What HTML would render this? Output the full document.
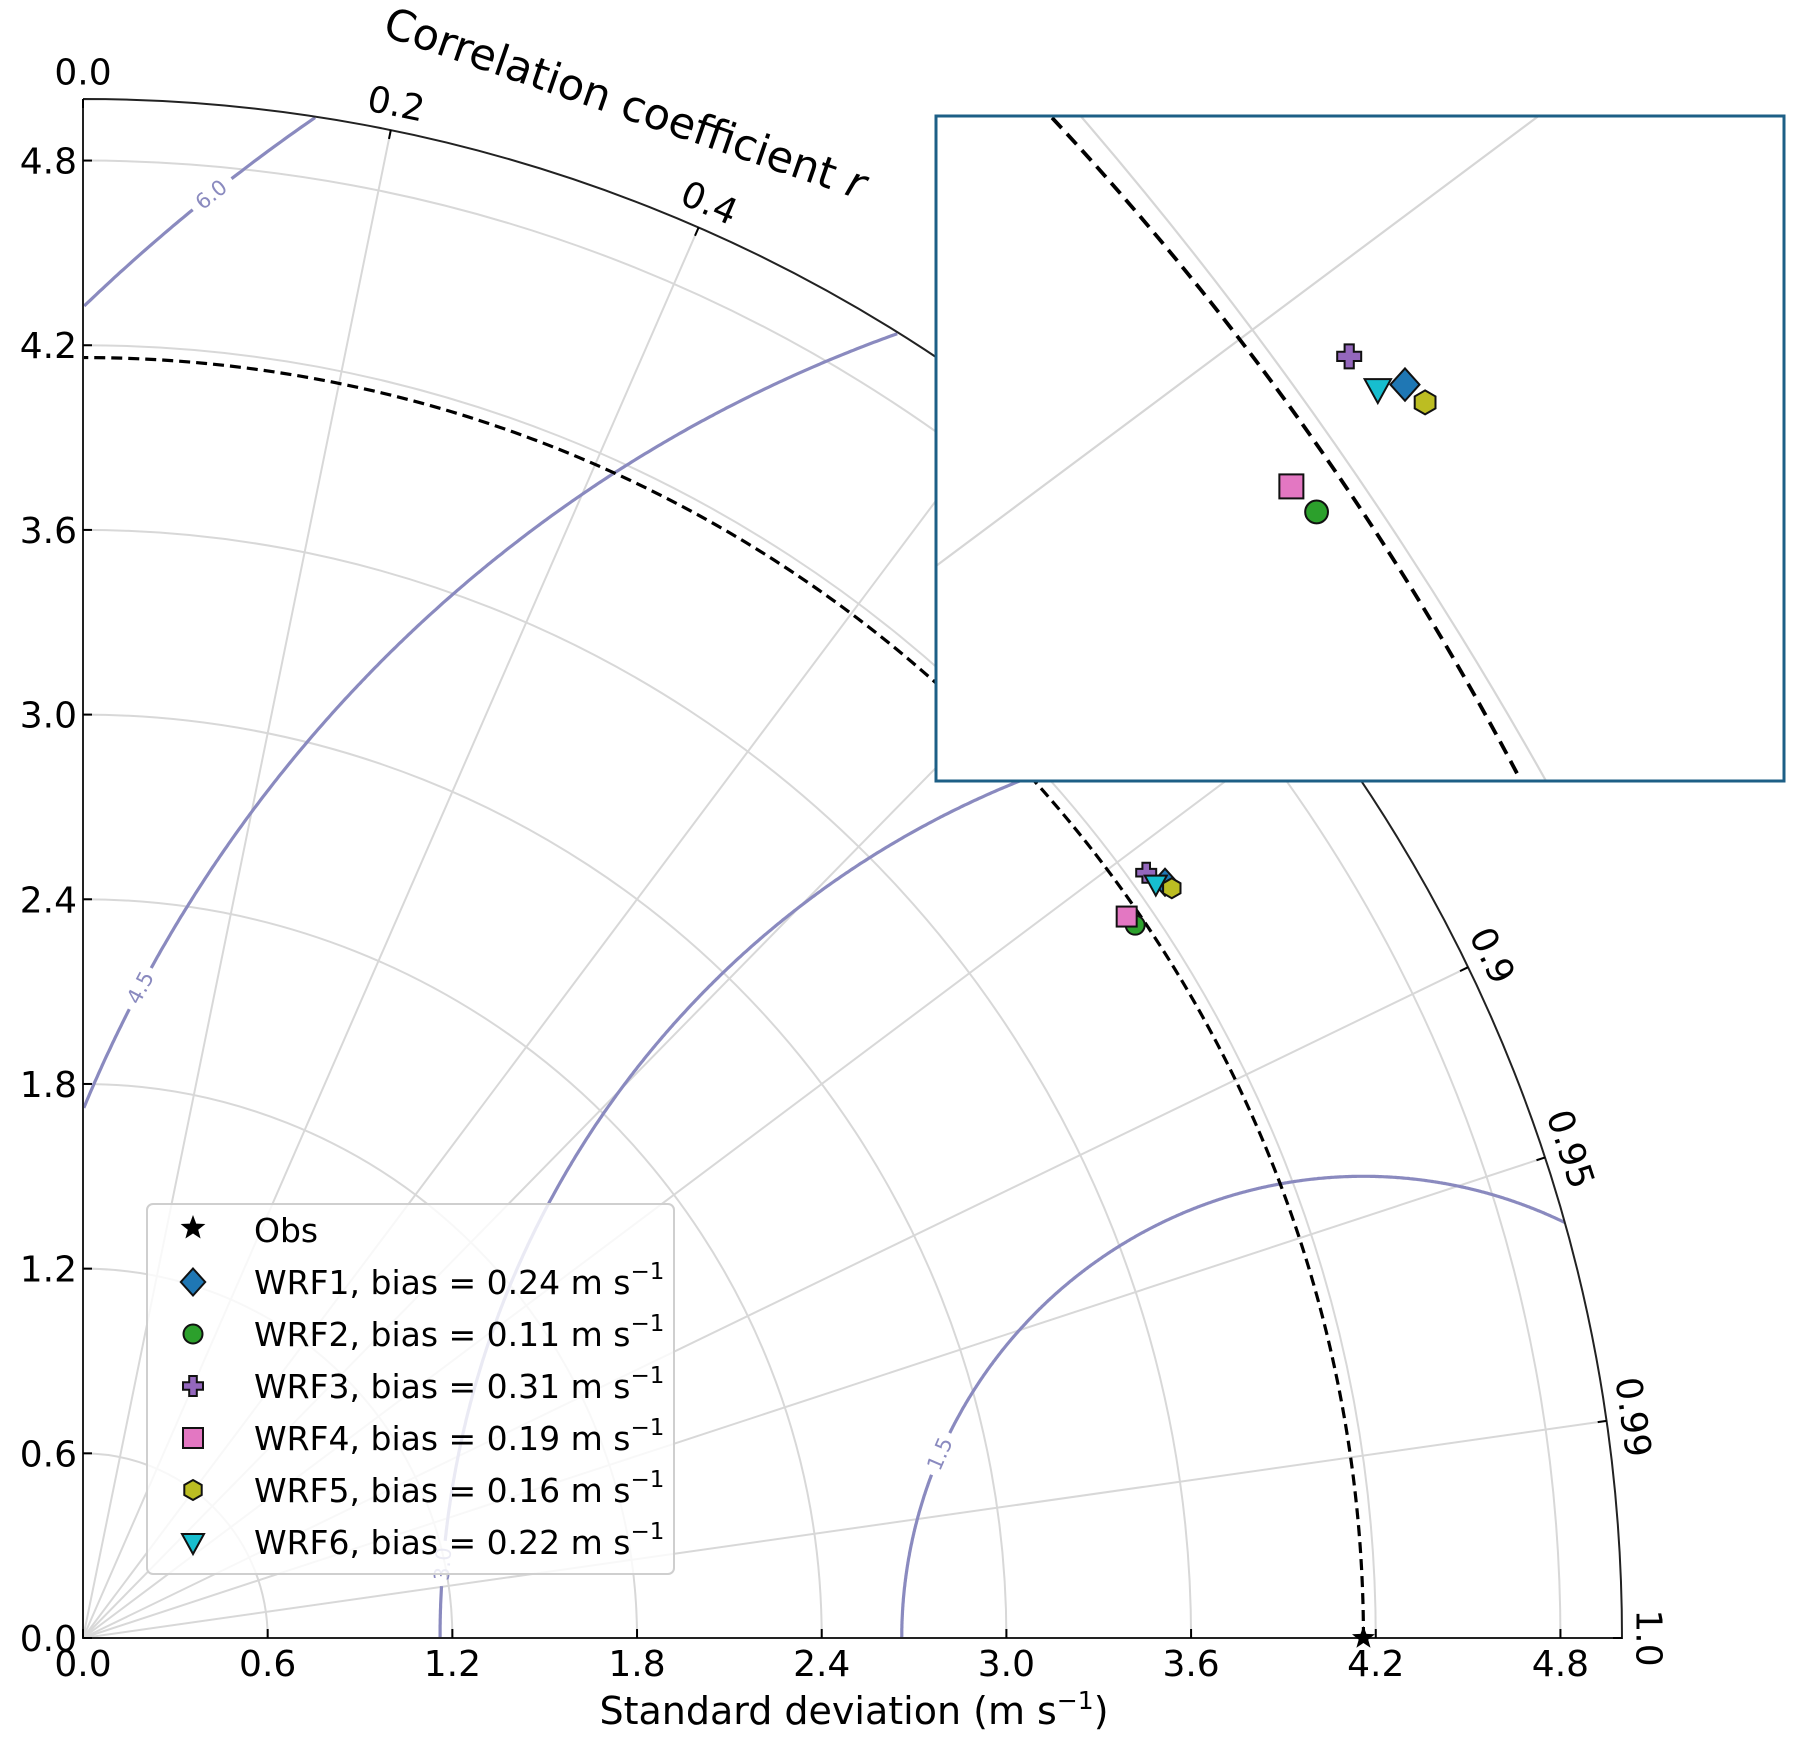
<!DOCTYPE html>
<html><head><meta charset="utf-8"><style>
html,body{margin:0;padding:0;background:#fff;width:1804px;height:1739px;overflow:hidden;}
svg{display:block;font-family:"DejaVu Sans","Liberation Sans",sans-serif;}
</style></head><body>
<svg id="chart" width="1804" height="1739" viewBox="0 0 1804 1739" xmlns="http://www.w3.org/2000/svg">
<g id="grid"></g>
<g id="contours"></g>
<g id="axes"></g>
<g id="marks"></g>
<g id="legend"></g>
<g id="inset"></g>
<text x="854" y="1724" font-size="38" text-anchor="middle">Standard deviation (m s<tspan font-size="25" dy="-15">−1</tspan><tspan dy="15">)</tspan></text>
<text x="625" y="118" font-size="43" text-anchor="middle" transform="rotate(19 625 104)">Correlation coefficient <tspan font-style="italic">r</tspan></text>
</svg>
<script>
const models = ["WRF1","WRF2","WRF3","WRF4","WRF5","WRF6"];
const biasLabels = ["0.24","0.11","0.31","0.19","0.16","0.22"];
const stdValues = [4.288, 4.129, 4.256, 4.122, 4.295, 4.261];
const corrValues = [0.8198, 0.8279, 0.8116, 0.8226, 0.8236, 0.818];
const obsStd = 4.16;
const stdTicks = [0.0,0.6,1.2,1.8,2.4,3.0,3.6,4.2,4.8];
const corrTicks = [0.0,0.2,0.4,0.6,0.7,0.8,0.9,0.95,0.99,1.0];
const corrTickLabels = ["0.0","0.2","0.4","0.6","0.7","0.8","0.9","0.95","0.99","1.0"];
const rmsdLevels = [1.5, 3.0, 4.5, 6.0];
const rmsdLabels = ["1.5","3.0","4.5","6.0"];
const rmsdLabelAngles = [156.5, 175.4, 152, 128.6];

const NS="http://www.w3.org/2000/svg";
const OX=83, OY=1638, K=307.8, RMAX=5;
const sx = v => OX + v*K;
const sy = v => OY - v*K;
const colors=["#1f77b4","#2ca02c","#9467bd","#e377c2","#bcbd22","#17becf"];
const shapes=["diamond","circle","plus","square","hexagon","tridown"];
function el(tag, attrs, parent){const e=document.createElementNS(NS,tag);for(const k in attrs)e.setAttribute(k,attrs[k]);parent.appendChild(e);return e;}
const grid=document.getElementById('grid'), cont=document.getElementById('contours'), axes=document.getElementById('axes'), marks=document.getElementById('marks'), leg=document.getElementById('legend'), inset=document.getElementById('inset');

stdTicks.forEach(t=>{ if(t<=0) return;
  const a=el('path',{d:`M${sx(t)} ${OY} A${t*K} ${t*K} 0 0 0 ${OX} ${sy(t)}`,fill:'none',stroke:'#d8d8d8','stroke-width':2},grid);
  
  
});
corrTicks.forEach(c=>{ if(c<=0||c>=1) return;
  const th=Math.acos(c);
  const l=el('line',{x1:OX,y1:OY,x2:OX+RMAX*K*Math.cos(th),y2:OY-RMAX*K*Math.sin(th),stroke:'#d8d8d8','stroke-width':2},grid);
  
  
});
function contourPt(rho,phi){return [obsStd+rho*Math.cos(phi), rho*Math.sin(phi)];}
rmsdLevels.forEach((rho,i)=>{
  const la=rmsdLabelAngles[i]*Math.PI/180;
  const gap=22/(rho*K);
  let segs=[],cur=[];
  for(let j=0;j<=1400;j++){
    const phi=Math.PI*j/1400;
    const [x,y]=contourPt(rho,phi);
    const ok = x>=0 && y>=0 && Math.hypot(x,y)<=RMAX && Math.abs(phi-la)>gap;
    if(ok) cur.push(sx(x).toFixed(1)+' '+sy(y).toFixed(1));
    else if(cur.length){segs.push(cur);cur=[];}
  }
  if(cur.length)segs.push(cur);
  segs.forEach(s=>{
    const p=el('path',{d:'M'+s.join(' L'),fill:'none',stroke:'#8a8abf','stroke-width':3.2},cont);
    
    
  });
  const [lx,ly]=contourPt(rho,la);
  let ang=Math.atan2(-Math.cos(la),-Math.sin(la))*180/Math.PI;
  if(ang>90)ang-=180; if(ang<-90)ang+=180;
  const t=el('text',{x:sx(lx),y:sy(ly),'font-size':21,fill:'#8a8abf','text-anchor':'middle','dominant-baseline':'central',transform:`rotate(${ang} ${sx(lx)} ${sy(ly)})`},cont);
  t.textContent=rmsdLabels[i];
  
  
});
{const r=obsStd*K;const p=el('path',{d:`M${OX+r} ${OY} A${r} ${r} 0 0 0 ${OX} ${OY-r}`,fill:'none',stroke:'#000','stroke-width':3.2,'stroke-dasharray':'11 6'},axes);

}
{const R=RMAX*K;
const a=el('path',{d:`M${OX} ${OY-R} L${OX} ${OY} L${OX+R} ${OY} A${R} ${R} 0 0 0 ${OX} ${OY-R}`,fill:'none',stroke:'#222','stroke-width':2},axes);

}
stdTicks.forEach(t=>{
  const tl=el('line',{x1:sx(t),y1:OY,x2:sx(t),y2:OY-9,stroke:'#000','stroke-width':2},axes);
  
  
  const tx=el('text',{x:sx(t),y:OY+38,'font-size':36,'text-anchor':'middle'},axes);
  tx.textContent=t.toFixed(1);
  
  
  const yl=el('line',{x1:OX,y1:sy(t),x2:OX+9,y2:sy(t),stroke:'#000','stroke-width':2},axes);
  
  
  const ty=el('text',{x:OX-6,y:sy(t)+13,'font-size':36,'text-anchor':'end'},axes);
  ty.textContent=t.toFixed(1);
  
  
});
corrTicks.forEach((c,i)=>{
  const th=Math.acos(c), R=RMAX*K;
  const ct=el('line',{x1:OX+R*Math.cos(th),y1:OY-R*Math.sin(th),x2:OX+(R-9)*Math.cos(th),y2:OY-(R-9)*Math.sin(th),stroke:'#000','stroke-width':2},axes);
  
  
  const lx=OX+(R+26)*Math.cos(th), ly=OY-(R+26)*Math.sin(th);
  const rot=90-th*180/Math.PI;
  const t=el('text',{x:lx,y:ly,'font-size':36,'text-anchor':'middle','dominant-baseline':'central',transform:`rotate(${rot} ${lx} ${ly})`},axes);
  t.textContent=corrTickLabels[i];
  
  
});
function marker(parent,shape,cx,cy,s,fill){
  let e; const h=s/2;
  if(shape==='circle') e=el('circle',{cx,cy,r:h*0.95},parent);
  else if(shape==='square') e=el('rect',{x:cx-h,y:cy-h,width:s,height:s},parent);
  else {
    let pts=[];
    if(shape==='diamond'){const d=h*1.35;pts=[[0,-d],[d*0.9,0],[0,d],[-d*0.9,0]];}
    else if(shape==='tridown'){pts=[[-h*1.1,-h*0.8],[h*1.1,-h*0.8],[0,h*1.2]];}
    else if(shape==='hexagon'){for(let k=0;k<6;k++){const a=Math.PI/6+k*Math.PI/3;pts.push([h*Math.cos(a),h*Math.sin(a)]);}}
    else if(shape==='plus'){const a=h,b=h*0.38;pts=[[-b,-a],[b,-a],[b,-b],[a,-b],[a,b],[b,b],[b,a],[-b,a],[-b,b],[-a,b],[-a,-b],[-b,-b]];}
    else if(shape==='star'){for(let k=0;k<10;k++){const r=k%2?h*0.42:h;const a=-Math.PI/2+k*Math.PI/5;pts.push([r*Math.cos(a),r*Math.sin(a)]);}}
    e=el('polygon',{points:pts.map(p=>(cx+p[0]).toFixed(1)+','+(cy+p[1]).toFixed(1)).join(' ')},parent);
  }
  e.setAttribute('fill',fill); e.setAttribute('stroke','#111'); e.setAttribute('stroke-width',shape==='star'?0:2);
  return e;
}
{const m=marker(marks,'star',sx(obsStd),sy(0),24,'#000');

}
models.forEach((n,i)=>{
  const th=Math.acos(corrValues[i]);
  const x=stdValues[i]*Math.cos(th), y=stdValues[i]*Math.sin(th);
  const m=marker(marks,shapes[i],sx(x),sy(y),20,colors[i]);
  
  
});
{const b=el('rect',{x:147,y:1204,width:527,height:370,rx:6,fill:'#fff','fill-opacity':0.82,stroke:'#cfcfcf','stroke-width':2},leg);


const rowY=i=>1230+52*i;
const m0=marker(leg,'star',193,rowY(0)-2,26,'#000');


const t0=el('text',{x:254,y:rowY(0)+12,'font-size':33},leg);
t0.textContent='Obs';


models.forEach((n,i)=>{
  const y=rowY(i+1);
  const m=marker(leg,shapes[i],193,y,20,colors[i]);
  
  
  const t=el('text',{x:254,y:y+12,'font-size':33},leg);
  t.textContent=n+', bias = '+biasLabels[i]+' m s';
  const sup=el('tspan',{'font-size':23,dy:-15},t); sup.textContent='−1';
  
  
});}
const IX0=936,IY0=116,IX1=1784,IY1=781;
{const cp=el('clipPath',{id:'insetclip'},inset);el('rect',{x:IX0,y:IY0,width:IX1-IX0,height:IY1-IY0},cp);
const bg=el('rect',{x:IX0,y:IY0,width:IX1-IX0,height:IY1-IY0,fill:'#fff'},inset);

}
const ig=el('g',{'clip-path':'url(#insetclip)'},inset);
function circ3(a,b,c){const d=2*(a[0]*(b[1]-c[1])+b[0]*(c[1]-a[1])+c[0]*(a[1]-b[1]));
 const s=p=>p[0]*p[0]+p[1]*p[1];
 const ux=(s(a)*(b[1]-c[1])+s(b)*(c[1]-a[1])+s(c)*(a[1]-b[1]))/d;
 const uy=(s(a)*(c[0]-b[0])+s(b)*(a[0]-c[0])+s(c)*(b[0]-a[0]))/d;
 return [ux,uy,Math.hypot(a[0]-ux,a[1]-uy)];}
{const g=circ3([1084,120],[1254,332],[1546,781]);
const c=el('circle',{cx:g[0],cy:g[1],r:g[2],fill:'none',stroke:'#d6d6d6','stroke-width':2.2},ig);


const l=el('line',{x1:1560,y1:100,x2:920,y2:578,stroke:'#d6d6d6','stroke-width':2.2},ig);


const d=circ3([1056,122],[1234,332],[1521,781]);
const c2=el('circle',{cx:d[0],cy:d[1],r:d[2],fill:'none',stroke:'#000','stroke-width':3.8,'stroke-dasharray':'14 8'},ig);

}
const IK=912, IA=-1801, IB=2624;
models.forEach((n,i)=>{
  const th=Math.acos(corrValues[i]);
  const x=stdValues[i]*Math.cos(th), y=stdValues[i]*Math.sin(th);
  const m=marker(ig,shapes[i],IA+IK*x,IB-IK*y,24,colors[i]);
  
  
});
{const f=el('rect',{x:IX0,y:IY0,width:IX1-IX0,height:IY1-IY0,fill:'none',stroke:'#1d5f86','stroke-width':3},inset);

}
</script>
</body></html>
